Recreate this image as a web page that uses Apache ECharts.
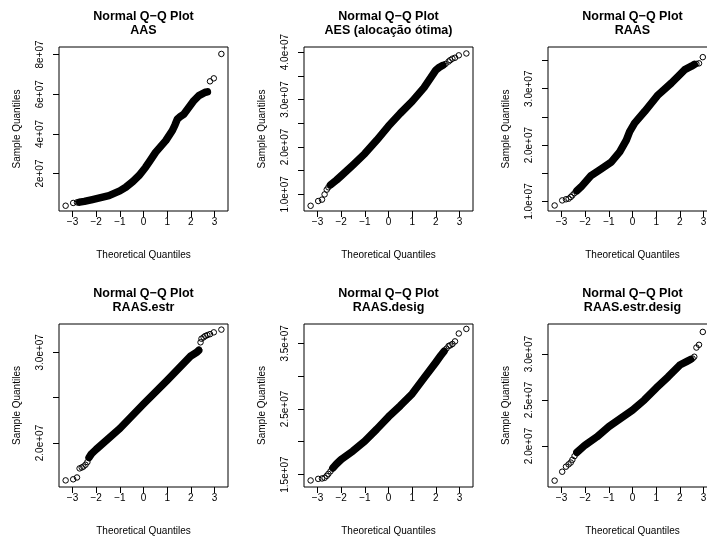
<!DOCTYPE html>
<html>
<head>
<meta charset="utf-8">
<script src="https://cdn.jsdelivr.net/npm/echarts@6/dist/echarts.min.js"></script>
<style>
html, body { margin: 0; padding: 0; background: #fff; }
#main { width: 707px; height: 536px; }
</style>
</head>
<body>
<div id="main"></div>
<script>
// titulos dos paineis
var titulos = ['AAS', 'AES (alocação ótima)', 'RAAS', 'RAAS.estr', 'RAAS.desig', 'RAAS.estr.desig'];

// marcas do eixo x (quantis teoricos)
var xTicks = [-3, -2, -1, 0, 1, 2, 3];

// marcas e rotulos do eixo y por painel
var yTicks = [
    [2e7, 4e7, 6e7, 8e7],
    [1e7, 1.5e7, 2e7, 2.5e7, 3e7, 3.5e7, 4e7],
    [1e7, 1.5e7, 2e7, 2.5e7, 3e7, 3.5e7],
    [2e7, 2.5e7, 3e7],
    [1.5e7, 2e7, 2.5e7, 3e7, 3.5e7],
    [2e7, 2.5e7, 3e7]
];
var yLabelVals = [
    [2e7, 4e7, 6e7, 8e7],
    [1e7, 2e7, 3e7, 4e7],
    [1e7, 2e7, 3e7],
    [2e7, 3e7],
    [1.5e7, 2.5e7, 3.5e7],
    [2e7, 2.5e7, 3e7]
];
var yLabelText = [
    ['2e+07', '4e+07', '6e+07', '8e+07'],
    ['1.0e+07', '2.0e+07', '3.0e+07', '4.0e+07'],
    ['1.0e+07', '2.0e+07', '3.0e+07'],
    ['2.0e+07', '3.0e+07'],
    ['1.5e+07', '2.5e+07', '3.5e+07'],
    ['2.0e+07', '2.5e+07', '3.0e+07']
];
var yMin = [1.14e6, 6.5e6, 8.32e6, 1.515e7, 1.31e7, 1.554e7];
var yMax = [8.38e7, 4.106e7, 3.74e7, 3.312e7, 3.795e7, 3.326e7];

// pontos [quantil teorico, quantil amostral]
// AAS
var aasLow = [[-3.29, 3.8e6], [-2.97, 5.2e6], [-2.81, 5.5e6]];
var aasBand = [[-2.7, 5.6e6], [-2.5, 6.0e6], [-2.16, 6.9e6], [-1.46, 8.9e6], [-1.0, 1.13e7], [-0.75, 1.31e7],
    [-0.45, 1.6e7], [-0.19, 1.9e7], [0.09, 2.32e7], [0.25, 2.6e7], [0.51, 3.07e7], [0.94, 3.66e7],
    [1.22, 4.17e7], [1.33, 4.45e7], [1.43, 4.75e7], [1.55, 4.87e7], [1.71, 5.0e7], [1.92, 5.34e7],
    [2.13, 5.68e7], [2.34, 5.93e7], [2.5, 6.03e7], [2.62, 6.1e7], [2.7, 6.12e7]];
var aasHigh = [[2.81, 6.65e7], [2.97, 6.8e7], [3.29, 8.03e7]];
// AES (alocacao otima)
var aesLow = [[-3.29, 7.6e6], [-2.97, 8.6e6], [-2.81, 8.9e6], [-2.70, 1.0e7], [-2.61, 1.1e7], [-2.54, 1.15e7]];
var aesBand = [[-2.45, 1.2e7], [-2.2, 1.3e7], [-2.0, 1.39e7], [-1.5, 1.62e7], [-1.0, 1.86e7], [-0.5, 2.14e7],
    [0, 2.44e7], [0.5, 2.71e7], [1.0, 2.96e7], [1.5, 3.25e7], [1.8, 3.47e7], [2.0, 3.62e7], [2.15, 3.68e7],
    [2.3, 3.72e7]];
var aesHigh = [[2.41, 3.75e7], [2.54, 3.8e7], [2.61, 3.83e7], [2.70, 3.86e7], [2.81, 3.88e7], [2.97, 3.93e7], [3.29, 3.97e7]];
// RAAS
var raasLow = [[-3.29, 9.3e6], [-2.97, 1.02e7], [-2.81, 1.04e7], [-2.70, 1.05e7], [-2.61, 1.08e7], [-2.54, 1.11e7], [-2.45, 1.15e7]];
var raasBand = [[-2.35, 1.19e7], [-2.17, 1.26e7], [-1.75, 1.46e7], [-1.32, 1.58e7], [-0.9, 1.7e7], [-0.54, 1.88e7],
    [-0.26, 2.09e7], [-0.12, 2.24e7], [0.09, 2.39e7], [0.52, 2.6e7], [1.08, 2.89e7], [1.64, 3.1e7],
    [2.0, 3.25e7], [2.21, 3.34e7], [2.49, 3.4e7], [2.61, 3.43e7]];
var raasHigh = [[2.70, 3.44e7], [2.81, 3.45e7], [2.97, 3.56e7], [3.29, 3.63e7]];
// RAAS.estr
var estrLow = [[-3.29, 1.588e7], [-2.97, 1.6e7], [-2.81, 1.62e7], [-2.70, 1.72e7], [-2.61, 1.73e7], [-2.54, 1.74e7],
    [-2.45, 1.76e7], [-2.37, 1.79e7]];
var estrBand = [[-2.3, 1.84e7], [-2.2, 1.88e7], [-2.0, 1.93e7], [-1.0, 2.16e7], [0, 2.43e7], [1.0, 2.69e7],
    [2.0, 2.96e7], [2.25, 3.0e7], [2.33, 3.02e7]];
var estrHigh = [[2.35, 3.03e7], [2.41, 3.11e7], [2.45, 3.15e7], [2.54, 3.165e7], [2.61, 3.18e7], [2.70, 3.19e7],
    [2.81, 3.2e7], [2.97, 3.22e7], [3.29, 3.25e7]];
// RAAS.desig
var desigLow = [[-3.29, 1.41e7], [-2.97, 1.434e7], [-2.81, 1.44e7], [-2.70, 1.45e7], [-2.61, 1.48e7], [-2.54, 1.51e7], [-2.45, 1.55e7]];
var desigBand = [[-2.35, 1.6e7], [-2.2, 1.66e7], [-2.0, 1.73e7], [-1.5, 1.86e7], [-1.0, 2.01e7], [-0.5, 2.19e7],
    [0, 2.38e7], [0.5, 2.55e7], [1.0, 2.73e7], [1.5, 2.97e7], [2.0, 3.21e7], [2.2, 3.31e7], [2.35, 3.38e7]];
var desigHigh = [[2.45, 3.42e7], [2.54, 3.46e7], [2.61, 3.47e7], [2.70, 3.49e7], [2.81, 3.53e7], [2.97, 3.65e7], [3.29, 3.72e7]];
// RAAS.estr.desig
var edLow = [[-3.29, 1.623e7], [-2.97, 1.72e7], [-2.81, 1.775e7], [-2.70, 1.8e7], [-2.61, 1.82e7], [-2.54, 1.85e7], [-2.45, 1.89e7]];
var edBand = [[-2.35, 1.93e7], [-2.0, 2.01e7], [-1.5, 2.1e7], [-1.0, 2.21e7], [-0.5, 2.3e7], [0, 2.39e7],
    [0.5, 2.5e7], [1.0, 2.63e7], [1.5, 2.75e7], [2.0, 2.88e7], [2.3, 2.92e7], [2.45, 2.94e7]];
var edHigh = [[2.54, 2.95e7], [2.61, 2.97e7], [2.70, 3.07e7], [2.81, 3.1e7], [2.97, 3.24e7], [3.29, 3.26e7]];

var bands = [aasBand, aesBand, raasBand, estrBand, desigBand, edBand];
var lows = [aasLow, aesLow, raasLow, estrLow, desigLow, edLow];
var highs = [aasHigh, aesHigh, raasHigh, estrHigh, desigHigh, edHigh];

var fonte = 'Liberation Sans, Arial, Helvetica, sans-serif';
var lefts = [59, 304, 548];
var tops = [47, 324];
var heights = [164, 163];
var largura = 169;

var grids = [], xAxes = [], yAxes = [], series = [], graphics = [];

for (var i = 0; i < 6; i++) {
    var col = i % 3, row = Math.floor(i / 3);
    grids.push({
        left: lefts[col], top: tops[row], width: largura, height: heights[row],
        show: true, borderColor: '#000', borderWidth: 1, backgroundColor: 'transparent',
        containLabel: false, outerBoundsMode: 'none'
    });
    xAxes.push({
        type: 'value', gridIndex: i, min: -3.57, max: 3.57,
        axisLine: { show: false, onZero: false },
        splitLine: { show: false },
        axisTick: { show: true, length: 6, customValues: xTicks, lineStyle: { color: '#000', width: 1 } },
        axisLabel: {
            customValues: xTicks, margin: 6, color: '#000', fontSize: 10, fontFamily: fonte,
            formatter: function (v) { return String(v).replace('-', '\u2212'); }
        },
        name: 'Theoretical Quantiles', nameLocation: 'middle', nameGap: 39.5,
        nameTextStyle: { color: '#000', fontSize: 10, fontFamily: fonte }
    });
    (function (k) {
        yAxes.push({
            type: 'value', gridIndex: k, min: yMin[k], max: yMax[k],
            axisLine: { show: false, onZero: false },
            splitLine: { show: false },
            axisTick: { show: true, length: 6, customValues: yTicks[k], lineStyle: { color: '#000', width: 1 } },
            axisLabel: {
                customValues: yLabelVals[k], margin: 14, rotate: 90, color: '#000', fontSize: 10, fontFamily: fonte,
                formatter: function (v) {
                    for (var j = 0; j < yLabelVals[k].length; j++) {
                        if (Math.abs(yLabelVals[k][j] - v) < 1) return yLabelText[k][j];
                    }
                    return '';
                }
            },
            name: 'Sample Quantiles', nameLocation: 'middle', nameGap: 37,
            nameTextStyle: { color: '#000', fontSize: 10, fontFamily: fonte }
        });
    })(i);
    series.push({
        type: 'line', xAxisIndex: i, yAxisIndex: i, data: bands[i],
        symbol: 'none', silent: true,
        lineStyle: { color: '#000', width: 7.5, cap: 'round', join: 'round' }
    });
    series.push({
        type: 'scatter', xAxisIndex: i, yAxisIndex: i,
        data: lows[i].concat(bands[i], highs[i]),
        symbol: 'circle', symbolSize: 5.5, silent: true,
        itemStyle: { color: 'rgba(0,0,0,0)', borderColor: '#000', borderWidth: 1, opacity: 1 }
    });
    var cx = lefts[col] + largura / 2;
    graphics.push({
        type: 'text', x: cx, y: tops[row] - 30.5,
        style: { text: 'Normal Q\u2212Q Plot', fill: '#000', font: 'bold 12.5px ' + fonte, align: 'center', verticalAlign: 'middle' }
    });
    graphics.push({
        type: 'text', x: cx, y: tops[row] - 16.5,
        style: { text: titulos[i], fill: '#000', font: 'bold 12.5px ' + fonte, align: 'center', verticalAlign: 'middle' }
    });
}

var myChart = echarts.init(document.getElementById('main'));
myChart.setOption({
    animation: false,
    backgroundColor: '#fff',
    grid: grids,
    xAxis: xAxes,
    yAxis: yAxes,
    series: series,
    graphic: graphics
});
window.addEventListener('resize', function () {
    myChart.resize();
});
</script>
</body>
</html>
